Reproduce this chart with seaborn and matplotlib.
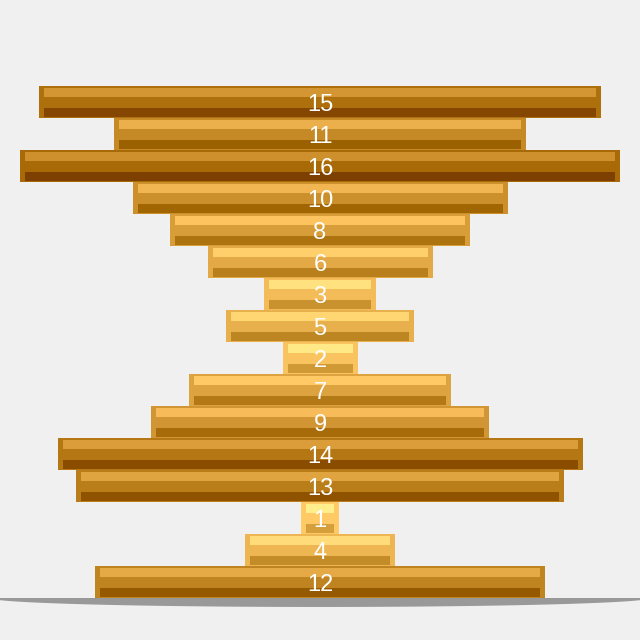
import numpy as np
import pandas as pd
import matplotlib
matplotlib.use("Agg")
import matplotlib.pyplot as plt
import matplotlib.colors as mcolors
import seaborn as sns

# bar values, top to bottom
values = [15, 11, 16, 10, 8, 6, 3, 5, 2, 7, 9, 14, 13, 1, 4, 12]
labels = [str(v) for v in values]

light = np.array(mcolors.to_rgb("#ffc966"))
dark = np.array(mcolors.to_rgb("#a86a06"))


def base_col(v):
    t = (v - 1) / 15
    return tuple(light + (dark - light) * t)


def shift(c, d):
    return tuple(np.clip(np.array(c) + d / 255, 0, 1))


sns.set_theme(style="white")
plt.rcParams["font.family"] = ["Liberation Sans", "DejaVu Sans"]

fig = plt.figure(figsize=(6.4, 6.4), dpi=100, facecolor="#f0f0f0")
ax = fig.add_axes([0, 0, 1, 1])
ax.set_facecolor("#f0f0f0")

df = pd.DataFrame({"label": labels, "value": values})
df["half"] = df["value"] / 2
pal = {l: base_col(v) for l, v in zip(labels, values)}

# base bar: two halves growing from the centre line
for sign in (1, -1):
    sns.barplot(data=df.assign(x=sign * df["half"]), x="x", y="label", hue="label",
                palette=pal, saturation=1, orient="h", width=1, dodge=False,
                legend=False, linewidth=0, ax=ax, zorder=2)

# highlight and shadow stripes
px_x = 1 / 37.5
px_y = 1 / 32
ypos = np.arange(len(values))
for i, v in enumerate(values):
    c = base_col(v)
    w = v - 10 * px_x
    ax.barh(ypos[i] - 0.5 + 2 * px_y, w, left=-w / 2, height=9 * px_y, align="edge",
            color=shift(c, 38), linewidth=0, zorder=3)
    ax.barh(ypos[i] - 0.5 + 22 * px_y, w, left=-w / 2, height=9 * px_y, align="edge",
            color=shift(c, -42), linewidth=0, zorder=3)
    ax.text(0, ypos[i] + 0.08, labels[i], color="white", fontsize=17,
            ha="center", va="center", zorder=5)

# ground shadow
gx = np.linspace(-8.6, 8.6, 400)
ga = 8.8
gy = 0.28 * np.sqrt(np.clip(1 - (gx / ga) ** 2, 0, 1))
ax.fill_between(gx, 15.5, 15.5 + gy, color="#999999", linewidth=0, zorder=1)

ax.set_xlim(-320 * px_x, 320 * px_x)
ax.set_ylim(15.5 + 42 * px_y, -0.5 - 86 * px_y)
ax.axis("off")

fig.savefig("out.png", dpi=100, facecolor="#f0f0f0")
